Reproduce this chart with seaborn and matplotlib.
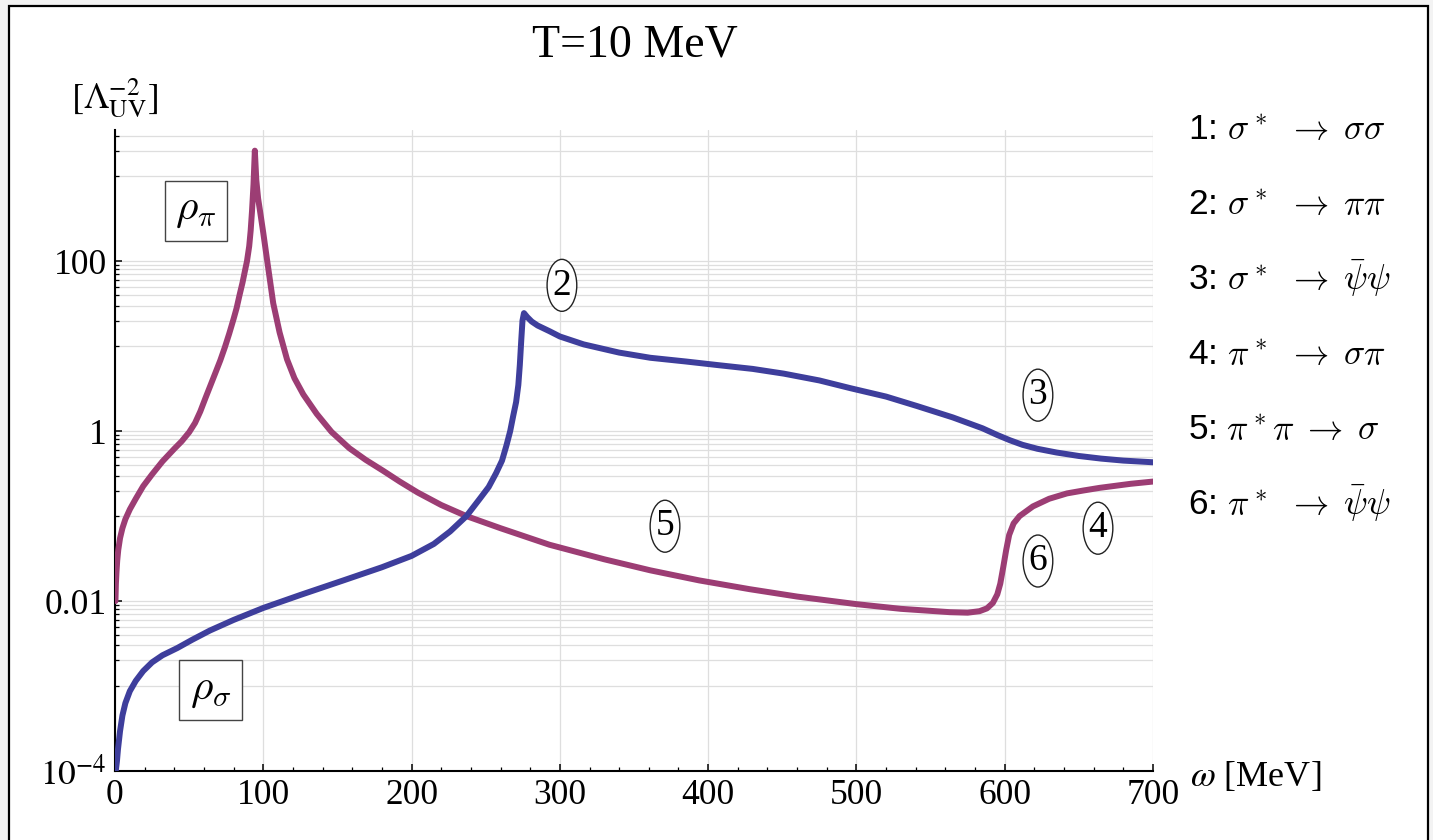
import numpy as np
import pandas as pd
import matplotlib
matplotlib.use("Agg")
import matplotlib.pyplot as plt
import seaborn as sns
from matplotlib.patches import Rectangle
from matplotlib.ticker import FixedLocator, NullFormatter

# ---------------- data ----------------
omega_pi = [0.3, 0.6, 1, 1.5, 2.2, 3.4, 5, 7, 10, 14, 19, 25, 32, 40, 45, 50, 54, 57.5, 61,
            64.5, 68, 71, 74, 77, 80, 82, 84, 86, 87.5, 89, 90.5, 91.5, 92.4, 93.4, 94.3,
            95.3, 96.5, 97.8, 100, 102.5, 106.7, 111, 116, 121, 127, 136, 146, 158, 169,
            181, 192, 204, 220, 237, 260, 293, 330, 361, 394, 428, 460, 500, 530, 563, 575,
            583, 588, 592, 595, 597, 599, 601, 603, 606, 610, 619, 630, 642, 653, 664, 685, 700]
rho_pi = [0.010, 0.016, 0.022, 0.030, 0.040, 0.055, 0.072, 0.092, 0.12, 0.16, 0.225, 0.31,
          0.44, 0.62, 0.76, 0.97, 1.25, 1.7, 2.45, 3.5, 5.0, 6.8, 9.6, 14, 21, 28, 40, 56, 75,
          100, 150, 230, 390, 800, 2000, 900, 550, 390, 215, 105, 32, 14.5, 7.0, 4.2, 2.7,
          1.6, 0.98, 0.63, 0.46, 0.34, 0.255, 0.19, 0.135, 0.10, 0.072, 0.046, 0.031, 0.023,
          0.0175, 0.0138, 0.0113, 0.0092, 0.0081, 0.0074, 0.0073, 0.0076, 0.0082, 0.0095,
          0.012, 0.016, 0.025, 0.040, 0.060, 0.082, 0.10, 0.13, 0.16, 0.185, 0.20, 0.215,
          0.24, 0.255]

omega_sigma = [0.5, 1.3, 2, 3.4, 5, 7, 10, 14, 19, 25, 32, 42, 52, 64, 80, 100, 125, 154,
               180, 200, 215, 226, 237, 246, 252, 257, 261, 264, 266.5, 268.5, 270.5, 272,
               273, 274, 274.8, 275.8, 278, 281, 285, 293, 300, 316, 340, 361, 385, 406, 430,
               451, 475, 496, 520, 541, 565, 585, 595, 603.6, 612, 622, 635, 650, 665, 680, 700]
rho_sigma = [1.0e-4, 1.3e-4, 1.8e-4, 2.95e-4, 4.5e-4, 6.3e-4, 8.7e-4, 1.15e-3, 1.5e-3,
             1.9e-3, 2.3e-3, 2.8e-3, 3.5e-3, 4.5e-3, 6.0e-3, 8.3e-3, 0.0118, 0.0175, 0.025,
             0.034, 0.047, 0.066, 0.10, 0.16, 0.22, 0.32, 0.45, 0.68, 1.0, 1.5, 2.2, 3.5, 6.0,
             12, 20, 24.5, 22, 19.5, 17.5, 15, 13, 10.5, 8.4, 7.3, 6.6, 6.0, 5.4, 4.75, 3.95,
             3.2, 2.55, 1.97, 1.45, 1.08, 0.90, 0.78, 0.69, 0.62, 0.56, 0.51, 0.475, 0.45, 0.43]

x_ticks = [0, 100, 200, 300, 400, 500, 600, 700]
y_ticks = [1e-4, 1e-2, 1, 100]
y_ticklabels = [r"$10^{-4}$", "0.01", "1", "100"]

process_labels = [r"1: $\sigma^*\;\,\rightarrow\;\sigma\sigma$",
                  r"2: $\sigma^*\;\,\rightarrow\;\pi\pi$",
                  r"3: $\sigma^*\;\,\rightarrow\;\bar{\psi}\psi$",
                  r"4: $\pi^*\;\,\rightarrow\;\sigma\pi$",
                  r"5: $\pi^*\pi\;\rightarrow\;\sigma$",
                  r"6: $\pi^*\;\,\rightarrow\;\bar{\psi}\psi$"]

marker_text = ["2", "3", "5", "6", "4"]
marker_omega = [301.4, 622.4, 370.9, 622.4, 662.9]
marker_value = [52, 2.65, 0.076, 0.0296, 0.072]

PINK = "#9c3d74"
BLUE = "#3e3e9c"

# ---------------- style ----------------
sns.set_theme(style="white")
plt.rcParams["font.family"] = ["Liberation Serif", "DejaVu Serif"]
plt.rcParams["mathtext.fontset"] = "stix"
for k in ["text.color", "axes.labelcolor", "xtick.color", "ytick.color", "axes.edgecolor"]:
    plt.rcParams[k] = "black"

W, H = 1433, 840
fig = plt.figure(figsize=(W / 100, H / 100), dpi=100)
fig.patch.set_facecolor("#f3f3f3")
fig.patches.append(Rectangle((9 / W, -0.01), (1428 - 9) / W, 1.01 - 6 / H, transform=fig.transFigure,
                             facecolor="white", edgecolor="black", linewidth=1.6, zorder=-5))

ax = fig.add_axes([115 / W, 1 - 771 / H, (1153 - 115) / W, (771 - 130) / H])
ax.set_facecolor("none")

df = pd.concat([
    pd.DataFrame({"omega": omega_pi, "value": rho_pi, "series": "rho_pi"}),
    pd.DataFrame({"omega": omega_sigma, "value": rho_sigma, "series": "rho_sigma"}),
], ignore_index=True)

sns.lineplot(data=df, x="omega", y="value", hue="series",
             palette={"rho_pi": PINK, "rho_sigma": BLUE},
             estimator=None, linewidth=4.3, legend=False, ax=ax, zorder=3)

ax.set_yscale("log")
ax.set_xlim(0, 700)
ax.set_ylim(1e-4, 3500)
ax.set_xlabel("")
ax.set_ylabel("")

ax.xaxis.set_major_locator(FixedLocator(x_ticks))
ax.xaxis.set_minor_locator(FixedLocator([v for v in range(0, 701, 20) if v % 100]))
ax.set_xticklabels([str(v) for v in x_ticks])
ax.yaxis.set_major_locator(FixedLocator(y_ticks))
ax.set_yticklabels(y_ticklabels)
minor_y = [k * 10.0 ** n for n in (-3, -1, 1, 3) for k in range(1, 10) if k * 10.0 ** n < 3500]
ax.yaxis.set_minor_locator(FixedLocator(minor_y))
ax.yaxis.set_minor_formatter(NullFormatter())

for lab in ax.get_xticklabels() + ax.get_yticklabels():
    lab.set_fontsize(25.5)
    lab.set_math_fontfamily("stix")

ax.tick_params(which="major", direction="in", length=5, width=1.1, color="black",
               left=True, bottom=True, top=False, right=False, pad=6)
ax.tick_params(which="minor", direction="in", length=3, width=0.9, color="black",
               left=True, bottom=True, top=False, right=False)

for s in ["top", "right"]:
    ax.spines[s].set_visible(False)
for s in ["left", "bottom"]:
    ax.spines[s].set_color("black")
    ax.spines[s].set_linewidth(1.5)

ax.set_axisbelow(True)
ax.grid(True, which="major", axis="x", color="#dedede", linewidth=0.9)
ax.grid(True, which="both", axis="y", color="#dedede", linewidth=0.9)

# circled process numbers
for t, xo, yv in zip(marker_text, marker_omega, marker_value):
    ax.text(xo, yv, t, ha="center", va="center", fontsize=27, zorder=5,
            bbox=dict(boxstyle="ellipse,pad=0.03", fc="white", ec="#222222", lw=1.0))

# boxed spectral function labels
ax.text(54.6, 388, r"$\rho_\pi$", ha="center", va="center", fontsize=31, math_fontfamily="cm",
        zorder=5, bbox=dict(boxstyle="square,pad=0.25", fc="white", ec="#444444", lw=1.0))
ax.text(64.7, 8.9e-4, r"$\rho_\sigma$", ha="center", va="center", fontsize=31, math_fontfamily="cm",
        zorder=5, bbox=dict(boxstyle="square,pad=0.25", fc="white", ec="#444444", lw=1.0))

# title and axis labels
fig.text(635 / W, 1 - 45 / H, "T=10 MeV", ha="center", va="center", fontsize=33)
fig.text(114 / W, 1 - 98 / H, r"$[\Lambda_{\mathrm{UV}}^{-2}]$", ha="center", va="center",
         fontsize=26, math_fontfamily="stix")
fig.text(1190 / W, 1 - 777 / H, r"$\omega$ [MeV]", ha="left", va="center", fontsize=26,
         math_fontfamily="stix")

# process list on the right
baselines = [140, 215, 290, 365, 440, 515]
for lab, yb in zip(process_labels, baselines):
    fig.text(1188 / W, 1 - yb / H, lab, ha="left", va="baseline", fontsize=25.5,
             family=["Liberation Sans", "DejaVu Sans"], math_fontfamily="cm")

fig.savefig("out.png", dpi=100, facecolor=fig.get_facecolor())
